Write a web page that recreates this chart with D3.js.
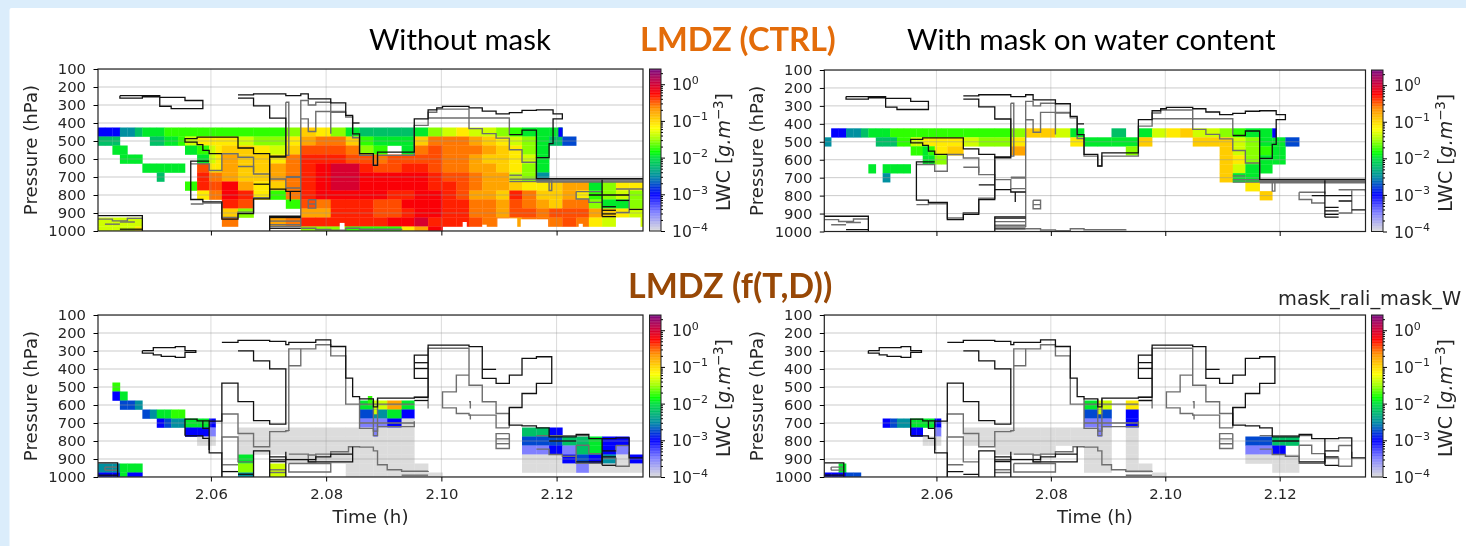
<!DOCTYPE html>
<html>
<head>
<meta charset="utf-8">
<script src="https://d3js.org/d3.v7.min.js"></script>
<style>
  html, body { margin: 0; padding: 0; background: #fff; overflow: hidden; }
  svg { display: block; }
  text { font-family: "DejaVu Sans", sans-serif; fill: #262626; }
  .title { font-family: Lato, sans-serif; fill: #000; }
  .tick text { font-family: "DejaVu Sans", sans-serif; }
</style>
</head>
<body>
<div id="chart"></div>
<script>
// model time grid (hours), the columns are not evenly spaced
const timeEdges = [2.0404, 2.0416, 2.0429, 2.0442, 2.0455, 2.0468, 2.0481, 2.0494, 2.0506, 2.0519, 2.0531,
  2.0543, 2.0555, 2.0565, 2.0576, 2.0586, 2.0597, 2.0608, 2.0619, 2.0647, 2.0674, 2.0702, 2.0730, 2.0756,
  2.0782, 2.0808, 2.0834, 2.0858, 2.0882, 2.0906, 2.0931, 2.0953, 2.0977, 2.1002, 2.1026, 2.1048, 2.1071,
  2.1095, 2.1118, 2.1140, 2.1165, 2.1187, 2.1210, 2.1234, 2.1256, 2.1279, 2.1303, 2.1326, 2.1350];

const pressureLevels = [450, 500, 550, 600, 650, 700, 750, 800, 850, 900, 950, 1000];
const pressureTicks = [100, 200, 300, 400, 500, 600, 700, 800, 900, 1000];
const timeTicks = [2.06, 2.08, 2.10, 2.12];

// log10(LWC) of each letter used in the rows below, a = lowest, "." = no cloud
const lwcLevels = [-4, -3.5, -3, -2.75, -2.5, -2.2, -1.95, -1.75, -1.55, -1.35, -1.1, -0.95, -0.75, -0.58, -0.46, -0.34, -0.22, -0.03];

// colormap stops
const cmapLog = [-4, -3.5, -3, -2.5, -2, -1.85, -1.5, -1.2, -0.65, -0.25, 0.05, 0.41];
const cmapColor = ["#dcdcdc", "#8080ff", "#0000ff", "#0090a0", "#00e040", "#00ff00", "#a0ff00", "#ffff00", "#ff9000", "#ff0000", "#c80040", "#7a0a80"];

// one string per pressure level, one letter per time column
const ctrlNoMask = [
  "ccceefggghhhhhhhhh h hhhilkigff ffgijkjjih ggg",
  "fff....ffgghjjkkkk k jiikmnnlhg gglnnnmlkj igfd",
  "..gg........gghhjk l lkjlooonih .gnonnnmlk ig",
  "...ggg........ggjk m llknpppoon oooonnmllk jg",
  "......gggggg..ookk m llmnpqrrpo opponnmmlk ig",
  "........f.....ppnn m llmnpqrrqq qqqpoonmmj ie",
  "............hhppoo q mklnpqrrqq qqqpponmml kklmmgikk",
  "..............kknn q pkhnpqqqqq ppqqpommlp nllmkhiji",
  ".................. p o..honpppo oqqqppnnmo nmlnniggi",
  ".................. l i...mmpppo opqqppnnmo onooomlkj",
  "jjjjjj............ n ..mnpppppp qqrppponnm nnnonkjjj",
  "jjjjjk............ . ....iiihhh hkmq"
];
const ctrlMask = [
  ".cceefggghhhhhhhhh h hhhilljg.. f.gjkljjih gg",
  "e......fffhhjjkkkk k jiik...kgg ggl...lllj iggd",
  "............hhghkk l ...m...... .i......lj ihg",
  "..............ggii . .......... ........lk igg",
  "......g.gggg...... . .......... ........lj gg",
  "........e......... . .......... ........lg g",
  ".................. . .......... .......... k",
  ".................. . .......... .......... .l",
  "", "", "", ""
];
const ftdNoMask = [
  "",
  "..h",
  "..cg",
  "...dde............ . ........gj mg",
  "......degghh...... . ........de gc",
  "........cdeeggggc. . ........bb ca",
  "............ccccb. . aaaaaaaaaa aa........ ffc",
  "..............aaa. . aaaaaaaaaa aa........ dddffgcc",
  ".................. . aaaaaaaaaa aa........ bbcbfgcb",
  ".................. . g..aaaaaaa aa........ aaacdceac",
  "eeeggg............ . i.j....aaa aaa....... aaaabaaaac",
  "cccgcc............ . e.j....aaa aaaa"
];
const ftdMask = [
  "", "", "",
  ".................. . ........gj .k",
  ".................. . ........dd .c",
  "........cdeeggggc. . ........bb .c",
  "............cc..b. . aaaaaaaaaa .a",
  "..............aaa. . aaaaaaaaaa .a........ ddff",
  ".................. . ..aaaa..aa .a........ bbc",
  ".................. . ........aa .a........ aaaa",
  "..g............... . ........aa .aa....... ..aa",
  "cccdd............. . .......... ...a"
];

// narrower features: [first edge, last edge, top pressure, bottom pressure, letter], "." cuts the cloud away
const ctrlNoMaskThin = [
  [41.7,42,425,475,"c"],
  [37.1,38.6,930,1000,"."], [38.9,40.9,935,1000,"."], [46,47.8,925,1000,"."], [36,36.3,965,1000,"."],
  [25.6,25.9,955,1000,"."], [34.5,34.8,950,1000,"."], [43.2,43.5,960,1000,"."]
];
const ctrlMaskThin = [[41,41.3,425,475,"c"]];
const ftdNoMaskThin = [[28,28.3,725,775,"b"], [28,28.3,625,650,"j"], [27.6,27.9,550,600,"h"]];
const ftdMaskThin = [[28,28.3,725,775,"b"], [28,28.3,625,650,"j"]];

// cloud contours: [time column edge, pressure], joined as steps
const ctrlBlack = [
  [[3,248],[8.4,258],[10,258],[12,275],[15,320],[12,320],[10,307],[8.4,255],[6,262],[3,248]],
  [[19,244],[20,238],[22,248],[23,238],[23.5,266],[25,288],[26,358],[26.5,460],[27,570],[28,635],[28.3,562],[31,377],[32,327],[32.6,316],[33,308],[35,316],[36,334],[37,349],[38,342],[39,330],[40,327],[41.3,349],[42,377],[41.3,515],[41,592],[40,709],[48,709]],
  [[19,262],[20,305],[21,373],[22,589],[21,570],[20,539],[19,478],[14,487],[12,506],[14,520],[15,552],[16,570],[18,570]],
  [[16,612],[13,825],[15,838],[18,934],[19,904],[20,822],[21,584],[22,584]],
  [[26.5,400],[27,400]],
  [[23,918],[21,918],[21,1000]], [[21,925],[23,925]], [[21,985],[23,985]],
  [[0,915],[6,915],[6,1000]], [[3,990],[6,990]],
  [[21,767],[22,780],[22.3,835],[22.3,780],[23,780]],
  [[20,740],[21,740]],
  [[38,465],[39,440],[40,592]],
  [[45,715],[45,920]], [[45,865],[46,865]], [[45,885],[46,885]], [[45,905],[46,905]], [[45,920],[46,920]],
  [[44,800],[47,800]], [[47,880],[48,880]], [[46,830],[47,830]]
];
const ctrlGray = [
  [[23,975],[23,275],[23.5,300],[24,285],[25,340],[26,367],[26.5,482],[27,580],[28,635],[28.3,580],[31,413],[32,340],[32.6,323],[33,323],[35,431],[36,459],[37,484],[38,549],[39,618],[40,725]],
  [[23,377],[23.5,447],[24,336],[25,460],[25,336],[26,336]],
  [[32,372],[33,372],[35,372],[37,372],[38,465]],
  [[22,285],[22.2,580],[22,285]],
  [[13,627],[16,664],[18,571],[19,590],[20,683],[21,711],[22,761],[23,761]],
  [[13,850],[15,845],[18,925],[19,895],[20,815],[21,600]],
  [[19,642],[20,672]],
  [[23.5,826],[24,873],[23.5,826]], [[23.5,850],[24,850]],
  [[22,698],[23,698]], [[22,702],[23,702]],
  [[21,945],[23,945]], [[21,965],[23,965]], [[21,975],[23,975]],
  [[23,985],[24,992],[25,995],[26,985],[27,990],[30,988]],
  [[0,934],[2,944],[4,930],[6,930]], [[1,962],[3,962]], [[3,950],[5,950]],
  [[40,715],[48,715]], [[40,722],[48,722]], [[40,728],[48,728]], [[41,715],[41.2,775],[41,715]],
  [[38,690],[39,690]], [[38,712],[40,712]], [[38,725],[40,725]],
  [[43,781],[44,781],[45,790]], [[43,781],[43,822],[44,841],[45,841]],
  [[46,767],[47,767],[48,781]], [[46,897],[47,897],[47,770]]
];
const ftdBlack = [
  [[6,298],[7.5,281],[10.6,276],[12,298],[13.8,308],[12,335],[10.6,330],[8.6,322],[7.5,312],[6,298]],
  [[18,252],[19,241],[21,247],[22,265],[22.2,252],[24,238],[25,275],[26,451],[26.5,553],[27,566],[28,610],[28.3,562],[31,556],[32,267],[35,276],[36,452],[37,480],[38,434],[39,341],[40,332],[41.2,480],[40,536],[39,614],[38,712],[39,716],[40,727],[41,777],[43,764],[44,787],[46,783],[47,894],[48,894]],
  [[19,299],[20,355],[21,399],[22,438],[22,706],[21,687],[20,581],[19,479],[18,690],[16,690],[16,866],[18,876],[18,1000]],
  [[36,402],[37,402]],
  [[20,1000],[20,855],[21,888],[22,903],[24,888],[25,873],[26.5,832],[26.5,916],[25,916],[23.5,903]],
  [[0,921],[2.7,921],[2.7,1000]], [[0,990],[2.7,990]],
  [[12,771],[12,679],[14,688],[16,690]], [[12,771],[15,785],[16,785],[16,850]], [[15,688],[15,730],[16,730]],
  [[21,1000],[21,888]], [[21,905],[22,905]], [[21,915],[22,915]], [[22,860],[22,1000]],
  [[18,970],[19,970]], [[19,985],[20,985]],
  [[32,323],[31,323],[31,452],[32,452]], [[31,365],[32,365]], [[31,397],[32,397]],
  [[31,558],[32,558]], [[31,575],[32,575]],
  [[38,614],[38,712]],
  [[41,800],[43,800]], [[45,787],[45,935]], [[45,855],[46,855]], [[45,888],[46,888]], [[45,935],[46,935]],
  [[43,916],[44,916],[45,870]]
];
const ftdGray = [
  [[22.2,745],[22.2,288],[24,265],[25,327],[26,595],[27,595]],
  [[22.2,382],[23,382],[23,288]],
  [[18,870],[18,650],[19,758],[20,832],[21,748],[22,743],[22.2,745]],
  [[18,1000],[18,778],[19,916],[20,916]],
  [[18,932],[19,932]],
  [[22.2,873],[23.5,878],[24,873],[25,860],[26.2,832],[27,834],[28,855],[28.3,932],[29,960],[30,968],[32,966]],
  [[23.5,878],[23.5,916],[24,916],[24,878]],
  [[22.2,925],[25,925],[25,972],[22.2,972],[22.2,925]],
  [[21,960],[22,960]], [[21,975],[22,975]], [[30,990],[32,990]],
  [[32,620],[32,285],[35,285],[35,490],[36,582],[37,647],[38,727]],
  [[35,434],[34,527],[33,616],[34,647],[35,656],[37,727],[38,727]],
  [[35,582],[35.1,620]], [[35,656],[35.1,680]],
  [[38,759],[37,759],[37,842],[38,842],[38,759]], [[37,788],[38,788]], [[37,815],[38,815]],
  [[1,945],[2.7,945]], [[1,962],[2.7,962]], [[1,945],[1,962]],
  [[27,566],[27,730],[28,745],[28.3,720],[31,690]],
  [[27,595],[31,595]], [[27,700],[31,700]], [[28,566],[28,770],[28.3,770],[28.3,566]],
  [[40,770],[44,770]], [[40,845],[41,875],[42,885],[43,924],[45,895],[46,940],[47,860]],
  [[43,824],[44,870],[45,888]], [[43,824],[43,916]], [[46,825],[47,825]], [[46,825],[46,860]]
];

const colorbarDecades = [-4, -3, -2, -1, 0];
const colorbarMax = 2.6;

const width = 1466, height = 546;
const svg = d3.select("#chart").append("svg")
  .attr("width", width)
  .attr("height", height)
  .style("filter", "blur(0.55px)");

// slide background
svg.append("rect").attr("width", width).attr("height", height).attr("fill", "#dbedfb");
svg.append("rect").attr("x", 9.5).attr("y", 8).attr("width", width).attr("height", height).attr("rx", 2).attr("fill", "#fff");

const lwcColor = d3.scaleLinear().domain(cmapLog).range(cmapColor).clamp(true);
const edgeTime = d3.scaleLinear().domain(d3.range(timeEdges.length)).range(timeEdges);
const letterColor = c => c === "." ? "#fff" : lwcColor(lwcLevels[c.charCodeAt(0) - 97]);

const panels = [
  { id: "a", rows: ctrlNoMask, thin: ctrlNoMaskThin, black: ctrlBlack, gray: ctrlGray, x0: 98, x1: 643, y0: 69, y1: 231, cbX: 649.5, xLabels: false },
  { id: "b", rows: ctrlMask, thin: ctrlMaskThin, black: ctrlBlack, gray: ctrlGray, x0: 824.3, x1: 1365.5, y0: 70, y1: 231.5, cbX: 1371.5, xLabels: false },
  { id: "c", rows: ftdNoMask, thin: ftdNoMaskThin, black: ftdBlack, gray: ftdGray, x0: 98, x1: 643, y0: 315, y1: 477, cbX: 649.5, xLabels: true },
  { id: "d", rows: ftdMask, thin: ftdMaskThin, black: ftdBlack, gray: ftdGray, x0: 824.3, x1: 1365.5, y0: 315, y1: 477, cbX: 1371.5, xLabels: true }
];

panels.forEach(drawPanel);

function drawPanel(p) {
  const x = d3.scaleLinear().domain([timeEdges[0], timeEdges[timeEdges.length - 1]]).range([p.x0, p.x1]);
  const y = d3.scaleLinear().domain([100, 1000]).range([p.y0, p.y1]);
  const g = svg.append("g");

  g.append("clipPath").attr("id", "clip-" + p.id).append("rect")
    .attr("x", p.x0).attr("y", p.y0).attr("width", p.x1 - p.x0).attr("height", p.y1 - p.y0);
  const plot = g.append("g").attr("clip-path", `url(#clip-${p.id})`);

  // cells, then the narrow features on top of them
  const cells = [];
  p.rows.forEach((row, r) => {
    row.replace(/ /g, "").split("").forEach((c, i) => {
      if (c !== ".") cells.push({ i0: i, i1: i + 1, top: pressureLevels[r] - 25, bottom: Math.min(pressureLevels[r] + 25, 1000), c });
    });
  });
  p.thin.forEach(d => cells.push({ i0: d[0], i1: d[1], top: d[2], bottom: d[3], c: d[4] }));
  plot.append("g").selectAll("rect")
    .data(cells)
    .enter()
    .append("rect")
    .attr("x", d => x(edgeTime(d.i0)))
    .attr("width", d => x(edgeTime(d.i1)) - x(edgeTime(d.i0)) + 0.3)
    .attr("y", d => y(d.top))
    .attr("height", d => y(d.bottom) - y(d.top) + 0.3)
    .attr("fill", d => letterColor(d.c));

  // grid
  plot.append("g").selectAll("line")
    .data(pressureTicks)
    .enter()
    .append("line")
    .attr("x1", p.x0).attr("x2", p.x1)
    .attr("y1", d => y(d)).attr("y2", d => y(d))
    .attr("stroke", "#999").attr("stroke-opacity", 0.5).attr("stroke-width", 1);
  plot.append("g").selectAll("line")
    .data(timeTicks)
    .enter()
    .append("line")
    .attr("y1", p.y0).attr("y2", p.y1)
    .attr("x1", d => x(d)).attr("x2", d => x(d))
    .attr("stroke", "#999").attr("stroke-opacity", 0.35).attr("stroke-width", 1);

  // contours
  const line = d3.line()
    .x(d => x(edgeTime(d[0])))
    .y(d => y(d[1]))
    .curve(d3.curveStepAfter);
  plot.append("g").selectAll("path")
    .data(p.gray)
    .enter()
    .append("path")
    .attr("d", line)
    .attr("fill", "none")
    .attr("stroke", "#6e6e6e")
    .attr("stroke-width", 1.4);
  plot.append("g").selectAll("path")
    .data(p.black)
    .enter()
    .append("path")
    .attr("d", line)
    .attr("fill", "none")
    .attr("stroke", "#111")
    .attr("stroke-width", 1.3);

  // frame
  g.append("rect")
    .attr("x", p.x0).attr("y", p.y0).attr("width", p.x1 - p.x0).attr("height", p.y1 - p.y0)
    .attr("fill", "none").attr("stroke", "#222").attr("stroke-width", 1.2);

  // axes
  const yAxis = g.append("g")
    .attr("transform", `translate(${p.x0},0)`)
    .call(d3.axisLeft(y).tickValues(pressureTicks).tickSize(4.5).tickPadding(7.5).tickFormat(d3.format("d")));
  yAxis.select(".domain").remove();
  yAxis.selectAll("text").style("font-size", "14.8px");

  const xAxis = g.append("g")
    .attr("transform", `translate(0,${p.y1})`)
    .call(d3.axisBottom(x).tickValues(timeTicks).tickSize(4.5).tickPadding(7)
      .tickFormat(p.xLabels ? d3.format(".2f") : ""));
  xAxis.select(".domain").remove();
  xAxis.selectAll("text").style("font-size", "14.8px");

  g.append("text")
    .attr("transform", `translate(${p.x0 - 66.5},${(p.y0 + p.y1) / 2}) rotate(-90)`)
    .attr("text-anchor", "middle")
    .attr("dominant-baseline", "middle")
    .style("font-size", "18.2px")
    .text("Pressure (hPa)");

  if (p.xLabels) {
    g.append("text")
      .attr("x", (p.x0 + p.x1) / 2)
      .attr("y", p.y1 + 46)
      .attr("text-anchor", "middle")
      .style("font-size", "18.2px")
      .text("Time (h)");
  }

  drawColorbar(g, p);
}

function drawColorbar(g, p) {
  const cbW = 11.5;
  const cy = d3.scaleLog().domain([1e-4, colorbarMax]).range([p.y1, p.y0]);
  const logMax = Math.log10(colorbarMax);
  const steps = d3.range(-4, logMax, 0.02);
  g.append("g").selectAll("rect")
    .data(steps)
    .enter()
    .append("rect")
    .attr("x", p.cbX)
    .attr("width", cbW)
    .attr("y", d => cy(Math.pow(10, Math.min(d + 0.02, logMax))))
    .attr("height", d => cy(Math.pow(10, d)) - cy(Math.pow(10, Math.min(d + 0.02, logMax))) + 0.3)
    .attr("fill", d => lwcColor(d));
  g.append("rect")
    .attr("x", p.cbX).attr("y", p.y0).attr("width", cbW).attr("height", p.y1 - p.y0)
    .attr("fill", "none").attr("stroke", "#222").attr("stroke-width", 1);

  const minor = [];
  colorbarDecades.forEach(k => d3.range(2, 10).forEach(m => {
    const v = m * Math.pow(10, k);
    if (v < colorbarMax) minor.push(v);
  }));
  const right = p.cbX + cbW;
  g.append("g")
    .attr("transform", `translate(${right},0)`)
    .call(d3.axisRight(cy).tickValues(minor).tickSize(2).tickFormat(""))
    .select(".domain").remove();
  const major = g.append("g")
    .attr("transform", `translate(${right},0)`)
    .call(d3.axisRight(cy).tickValues(colorbarDecades.map(k => Math.pow(10, k))).tickSize(4).tickFormat(""));
  major.select(".domain").remove();

  const label = g.append("g").selectAll("text")
    .data(colorbarDecades)
    .enter()
    .append("text")
    .attr("x", right + 11)
    .attr("y", d => cy(Math.pow(10, d)) + 6)
    .style("font-size", "15.6px");
  label.append("tspan").text("10");
  label.append("tspan")
    .attr("dy", -6.5)
    .style("font-size", "11px")
    .text(d => d === 0 ? "0" : "\u2212" + Math.abs(d));

  const lwc = g.append("text")
    .attr("transform", `translate(${right + 69},${(p.y0 + p.y1) / 2 + 2}) rotate(-90)`)
    .attr("text-anchor", "middle")
    .style("font-size", "19px");
  lwc.append("tspan").text("LWC [");
  lwc.append("tspan").style("font-style", "italic").text("g.m");
  lwc.append("tspan").attr("dy", -7).style("font-size", "13.3px").text("\u22123");
  lwc.append("tspan").attr("dy", 7).text("]");
}

// titles
const titles = [
  { text: "Without mask", x: 369, y: 50, size: 29.4, weight: 400, color: "#000" },
  { text: "LMDZ (CTRL)", x: 640, y: 51, size: 32.6, weight: 700, color: "#e36c0a" },
  { text: "With mask on water content", x: 907, y: 50, size: 29.6, weight: 400, color: "#000" },
  { text: "LMDZ (f(T,D))", x: 628, y: 298, size: 34, weight: 700, color: "#984806" }
];
svg.append("g").selectAll("text")
  .data(titles)
  .enter()
  .append("text")
  .attr("class", "title")
  .attr("x", d => d.x)
  .attr("y", d => d.y)
  .style("font-size", d => d.size + "px")
  .style("font-weight", d => d.weight)
  .style("fill", d => d.color)
  .text(d => d.text);

// the reference shows this name only up to the W, the window ends there
svg.append("text")
  .attr("x", 1278)
  .attr("y", 305)
  .style("font-size", "19.4px")
  .text("mask_rali_mask_W");
</script>
</body>
</html>
